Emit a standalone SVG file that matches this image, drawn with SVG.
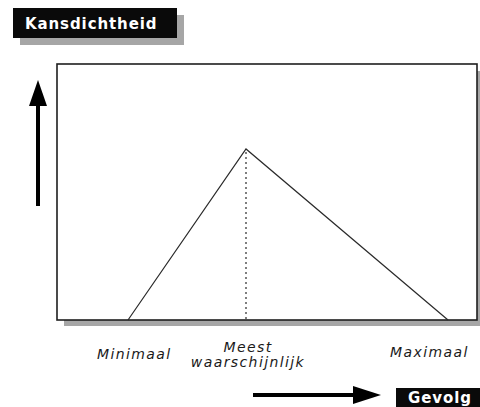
<svg xmlns="http://www.w3.org/2000/svg" width="480" height="407" viewBox="0 0 480 407">
  <style>
    .tag { fill: #0a0a0a; }
    .shadow { fill: #a6a6a6; }
    .tagText { font-family: "DejaVu Sans", Verdana, sans-serif; font-weight: bold; font-size: 15px; fill: #ffffff; letter-spacing: 0.9px; }
    .axisText { font-family: "DejaVu Sans", Verdana, sans-serif; font-style: italic; font-size: 14px; fill: #1a1a1a; letter-spacing: 1.4px; }
    .curve { fill: none; stroke: #2a2a2a; stroke-width: 1.2; }
    .arrow { stroke: #000000; stroke-width: 4; }
  </style>

  <rect width="480" height="407" fill="#ffffff"/>

  <!-- y-axis label -->
  <g id="label-kansdichtheid">
    <rect class="shadow" x="20" y="15" width="164" height="30"/>
    <rect class="tag" x="13" y="8" width="164" height="30"/>
    <text class="tagText" x="25" y="29">Kansdichtheid</text>
  </g>

  <!-- plot frame with drop shadow -->
  <g id="frame">
    <rect class="shadow" x="64" y="71" width="416" height="255"/>
    <rect x="57" y="64" width="420" height="256" fill="#ffffff" stroke="#1e1e1e" stroke-width="1.6"/>
  </g>

  <!-- triangular distribution -->
  <g id="distribution">
    <polyline class="curve" points="128,320 246,149 448,320"/>
    <line x1="246" y1="152" x2="246" y2="320" stroke="#2a2a2a" stroke-width="1.2" stroke-dasharray="2,3"/>
  </g>

  <!-- axis arrows -->
  <g id="connectors">
    <line class="arrow" x1="38" y1="206" x2="38" y2="100"/>
    <polygon points="38,80 29,106 47,106" fill="#000000"/>
    <line class="arrow" x1="253" y1="395" x2="358" y2="395"/>
    <polygon points="381,395 353,386 353,404" fill="#000000"/>
  </g>

  <!-- x-axis annotations -->
  <g id="label-minimaal">
    <text class="axisText" x="97" y="359">Minimaal</text>
  </g>
  <g id="label-meest">
    <text class="axisText" x="248" y="352" text-anchor="middle">Meest</text>
    <text class="axisText" x="248" y="367" text-anchor="middle">waarschijnlijk</text>
  </g>
  <g id="label-maximaal">
    <text class="axisText" x="390" y="357">Maximaal</text>
  </g>

  <!-- x-axis label -->
  <g id="label-gevolg">
    <rect class="tag" x="396" y="388" width="84" height="19"/>
    <text class="tagText" x="408" y="403">Gevolg</text>
  </g>
</svg>
